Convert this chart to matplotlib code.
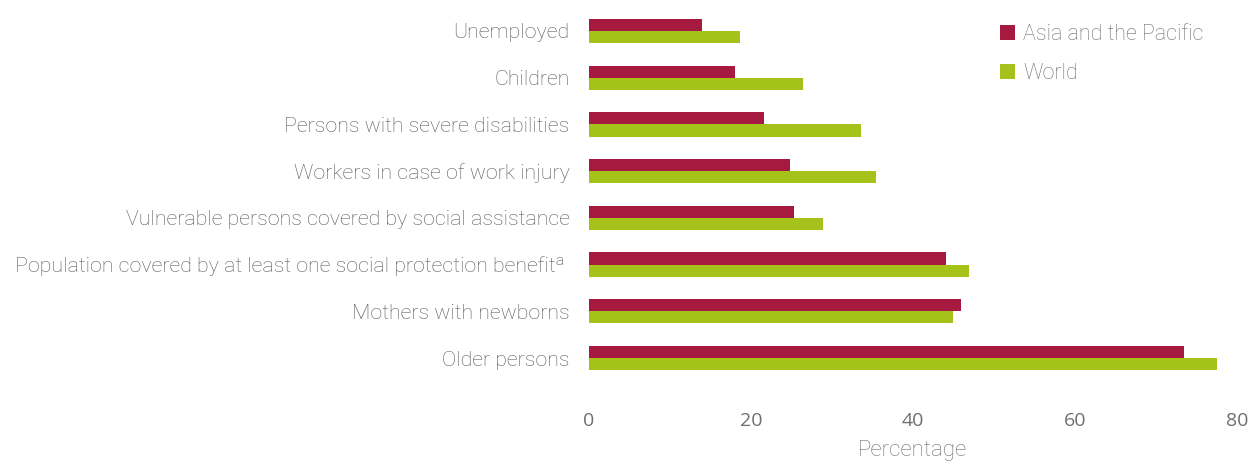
import numpy as np
import matplotlib
matplotlib.use('Agg')
import matplotlib.pyplot as plt

plt.rcParams['font.family'] = ['Roboto', 'DejaVu Sans']

# data (top to bottom)
categories = ['Unemployed',
              'Children',
              'Persons with severe disabilities',
              'Workers in case of work injury',
              'Vulnerable persons covered by social assistance',
              'Population covered by at least one social protection benefit\u1d43 ',
              'Mothers with newborns',
              'Older persons']
asia = [14.0, 18.0, 21.6, 24.8, 25.3, 44.1, 45.9, 73.5]
world = [18.6, 26.4, 33.6, 35.4, 28.9, 46.9, 44.9, 77.5]
series_names = ['Asia and the Pacific', 'World']

red = '#A51A3E'
green = '#A5C21A'

fig = plt.figure(figsize=(12.5, 4.65), dpi=100)
ax = fig.add_axes([0.4712, 0.1798, 0.5184, 0.8039])

y = np.arange(len(categories))
h = 0.26
ax.barh(y - h/2, asia, height=h, color=red, label=series_names[0])
ax.barh(y + h/2, world, height=h, color=green, label=series_names[1])

ax.set_xlim(0, 80)
ax.set_ylim(7.5, -0.5)
ax.set_xticks([0, 20, 40, 60, 80])
ax.set_yticks(y)
ax.set_yticklabels(categories, fontsize=15.4, fontweight='light', color='#595959')
for lab in ax.get_xticklabels():
    lab.set_fontfamily(['Open Sans', 'DejaVu Sans'])
    lab.set_fontsize(14)
    lab.set_color('#6f6f6f')
ax.tick_params(axis='both', length=0)
ax.tick_params(axis='x', pad=22)
ax.tick_params(axis='y', pad=14)
for s in ax.spines.values():
    s.set_visible(False)

ax.set_xlabel('Percentage', fontsize=16, fontweight='light', color='#6f6f6f', labelpad=7)

leg = ax.legend(loc='upper left', bbox_to_anchor=(0.605, 1.008), frameon=False,
                handlelength=0.7, handleheight=0.7, handletextpad=0.35,
                labelspacing=0.82, prop={'weight': 'light', 'size': 15.5})
for t in leg.get_texts():
    t.set_color('#6f6f6f')

fig.savefig('out.png', dpi=100)
